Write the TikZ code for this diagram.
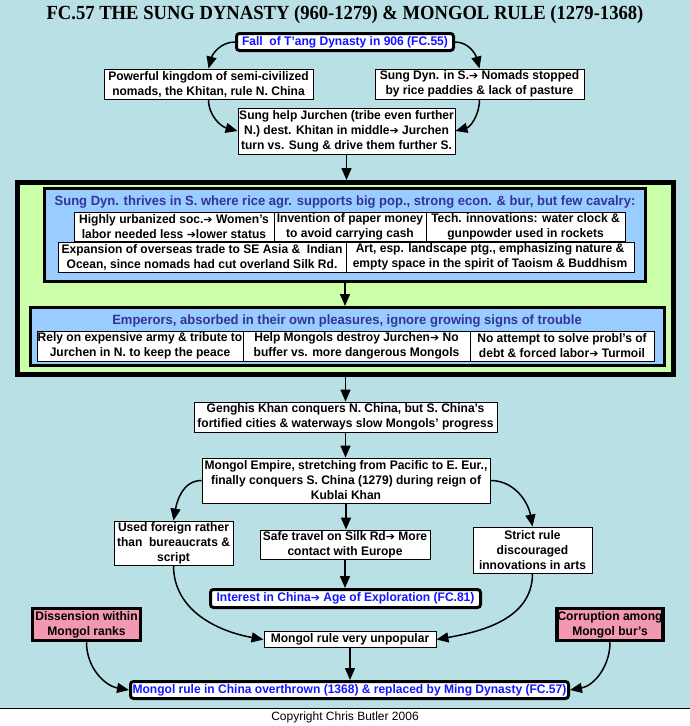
\documentclass[tikz,border=0pt]{standalone}
\usepackage{fontspec}
\setmainfont{Liberation Sans}[FakeStretch=0.97]
\newfontfamily\plainfont{Liberation Sans}
\newfontfamily\titlefont{Liberation Serif}[FakeStretch=0.93]
\newfontfamily\arrfont{DejaVu Sans}
\newcommand{\ra}{{\arrfont\fontsize{11}{15}\selectfont ➔}}
\usetikzlibrary{arrows.meta}
\definecolor{bgc}{RGB}{185,224,228}
\definecolor{grn}{RGB}{204,255,170}
\definecolor{blu}{RGB}{153,204,255}
\definecolor{pnk}{RGB}{242,152,178}
\definecolor{lnk}{RGB}{20,20,255}
\definecolor{hdr}{RGB}{51,51,153}
\tikzset{
  tb/.style={draw=black, line width=0.9pt, fill=white, align=center, inner sep=0pt,
    font=\fontsize{12.4}{15}\selectfont\bfseries},
  thk/.style={tb, line width=3pt, rounded corners=3pt, text=lnk},
  pk/.style={tb, line width=3.5pt, fill=pnk},
  cont/.style={draw=black, inner sep=0pt},
  hd/.style={inner sep=0pt, text=hdr, font=\fontsize{13.4}{15}\selectfont\bfseries},
  arr/.style={-{Triangle[width=10pt,length=12pt]}, line width=1.5pt},
}
\begin{document}
\begin{tikzpicture}[x=1pt,y=1pt]
\useasboundingbox (0,0) rectangle (690,-726);
\fill[bgc] (0,0) rectangle (690,-708);
\draw[line width=1pt] (0,-708.5) -- (690,-708.5);
\node[inner sep=0pt, font=\titlefont\fontsize{20}{24}\selectfont\bfseries] (title) at (345,-15) {FC.57 THE SUNG DYNASTY (960-1279) \& MONGOL RULE (1279-1368)};
\node[inner sep=0pt, font=\plainfont\fontsize{12}{14}\selectfont] (copy) at (345,-717) {Copyright Chris Butler 2006};

\node[thk, minimum width=217pt, minimum height=17pt] (fall) at (345,-42) {Fall\ \ of T'ang Dynasty in 906 (FC.55)};
\node[tb, minimum width=209pt, minimum height=30pt] (pow) at (208.5,-84) {Powerful kingdom of semi-civilized\\nomads, the Khitan, rule N. China};
\node[tb, minimum width=209pt, minimum height=30pt] (sdyn) at (479.5,-84) {Sung Dyn. in S.\ra{} Nomads stopped\\by rice paddies \& lack of pasture};
\node[tb, minimum width=217pt, minimum height=46pt] (help) at (346.5,-131) {Sung help Jurchen (tribe even further\\N.) dest. Khitan in middle\ra{} Jurchen\\turn vs. Sung \& drive them further S.};

\node[cont, line width=5pt, fill=grn, minimum width=656pt, minimum height=192pt] (green) at (345.5,-278.5) {};
\node[cont, line width=3pt, fill=blu, minimum width=601pt, minimum height=93pt] (blue1) at (345,-235) {};
\node[hd] (h1) at (345,-202) {Sung Dyn. thrives in S. where rice agr. supports big pop., strong econ. \& bur, but few cavalry:};
\node[tb, minimum width=200pt, minimum height=29pt] (ba) at (174,-226.5) {Highly urbanized soc.\ra{} Women's\\labor needed less \ra lower status};
\node[tb, minimum width=152pt, minimum height=29pt] (bb) at (350,-226.5) {Invention of paper money\\to avoid carrying cash};
\node[tb, minimum width=199pt, minimum height=29pt] (bc) at (525.5,-226.5) {Tech. innovations: water clock \&\\gunpowder used in rockets};
\node[tb, minimum width=288pt, minimum height=30pt] (bd) at (202,-257) {Expansion of overseas trade to SE Asia \&\ \ Indian\\Ocean, since nomads had cut overland Silk Rd.};
\node[tb, minimum width=288pt, minimum height=30pt] (be) at (490,-257) {Art, esp. landscape ptg., emphasizing nature \&\\empty space in the spirit of Taoism \& Buddhism};

\node[cont, line width=3pt, fill=blu, minimum width=634pt, minimum height=58pt] (blue2) at (347,-336.5) {};
\node[hd] (h2) at (347,-321) {Emperors, absorbed in their own pleasures, ignore growing signs of trouble};
\node[tb, minimum width=206pt, minimum height=30pt] (bf) at (140,-346) {Rely on expensive army \& tribute to\\Jurchen in N. to keep the peace};
\node[tb, minimum width=227pt, minimum height=30pt] (bg) at (356.5,-346) {Help Mongols destroy Jurchen\ra{} No\\buffer vs. more dangerous Mongols};
\node[tb, minimum width=184pt, minimum height=30pt] (bh) at (562,-346) {No attempt to solve probl's of\\debt \& forced labor\ra{} Turmoil};

\node[tb, minimum width=303pt, minimum height=30pt] (gen) at (345.5,-417) {Genghis Khan conquers N. China, but S. China's\\fortified cities \& waterways slow Mongols' progress};
\node[tb, minimum width=288pt, minimum height=45pt] (emp) at (346,-480.5) {Mongol Empire, stretching from Pacific to E. Eur.,\\finally conquers S. China (1279) during reign of\\Kublai Khan};
\node[tb, minimum width=119pt, minimum height=44pt] (used) at (173.5,-543) {Used foreign rather\\than\ \ bureaucrats \&\\script};
\node[tb, minimum width=170pt, minimum height=29pt] (safe) at (345,-544.5) {Safe travel on Silk Rd\ra{} More\\contact with Europe};
\node[tb, minimum width=119pt, minimum height=46pt] (strict) at (532.5,-550) {Strict rule\\discouraged\\innovations in arts};
\node[thk, minimum width=270pt, minimum height=18pt] (interest) at (345.5,-598.5) {Interest in China\ra{} Age of Exploration (FC.81)};
\node[pk, minimum width=108pt, minimum height=32pt] (diss) at (86.5,-624.5) {Dissension within\\Mongol ranks};
\node[pk, minimum width=106pt, minimum height=32pt] (corr) at (610,-624.5) {Corruption among\\Mongol bur's};
\node[tb, minimum width=172pt, minimum height=16pt] (unpop) at (350,-639.5) {Mongol rule very unpopular};
\node[thk, minimum width=438pt, minimum height=17pt] (over) at (349.5,-690) {Mongol rule in China overthrown (1368) \& replaced by Ming Dynasty (FC.57)};

\draw[arr] (fall.west) to[out=180,in=75] (pow.north);
\draw[arr] (fall.east) to[out=0,in=105] (sdyn.north);
\draw[arr] (pow.south) to[out=-90,in=165] (help.west);
\draw[arr] (sdyn.south) to[out=-90,in=15] (help.east);
\draw[arr] (help.south) -- (help.south |- green.north);
\draw[arr] (blue1.south) -- (blue1.south |- blue2.north);
\draw[arr] (green.south -| gen.north) -- (gen.north);
\draw[arr] (gen.south) -- (gen.south |- emp.north);
\draw[arr] (emp.west) to[out=180,in=80] (used.north);
\draw[arr] (emp.east) to[out=0,in=100] (strict.north);
\draw[arr] (emp.south) -- (emp.south |- safe.north);
\draw[arr] (safe.south) -- (safe.south |- interest.north);
\draw[arr] (used.south) to[out=-90,in=170] (unpop.west);
\draw[arr] (strict.south) to[out=-90,in=10] (unpop.east);
\draw[arr] (unpop.south) -- (unpop.south |- over.north);
\draw[arr] (diss.south) to[out=-90,in=170] (over.west);
\draw[arr] (corr.south) to[out=-90,in=10] (over.east);
\end{tikzpicture}
\end{document}
